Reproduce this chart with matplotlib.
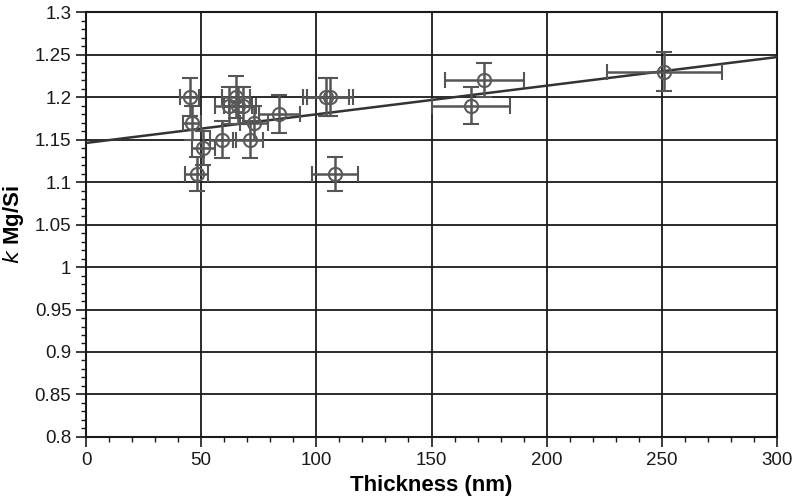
import matplotlib
matplotlib.use("Agg")
import matplotlib.pyplot as plt
from matplotlib.ticker import MultipleLocator, FuncFormatter
import numpy as np

plt.rcParams['font.family'] = ['Liberation Sans', 'DejaVu Sans']

# measured points: thickness (nm) and k-factor Mg/Si
thickness = [45, 46, 48, 51, 59, 62, 65, 66, 68, 71, 73, 84, 104, 106, 108, 167, 173, 251]
k_mgsi = [1.20, 1.17, 1.11, 1.14, 1.15, 1.19, 1.20, 1.19, 1.19, 1.15, 1.17, 1.18,
          1.20, 1.20, 1.11, 1.19, 1.22, 1.23]
thickness_err = [4, 4, 5, 5, 5, 6, 6, 6, 6, 6, 6, 9, 10, 10, 10, 17, 17, 25]
k_err = [0.022, 0.02, 0.02, 0.02, 0.022, 0.022, 0.025, 0.022, 0.022, 0.022, 0.02, 0.022,
         0.022, 0.022, 0.02, 0.022, 0.02, 0.023]

# linear fit
fit_intercept = 1.146
fit_slope = 0.000337

fig = plt.figure(figsize=(7.92, 5.04), dpi=100)
ax = fig.add_axes([0.1086, 0.133, 0.8725, 0.843])

# fit line
xf = np.array([0, 300])
ax.plot(xf, fit_intercept + fit_slope * xf, color='#333333', lw=1.8, zorder=3)

# points with error bars
ax.errorbar(thickness, k_mgsi, xerr=thickness_err, yerr=k_err, fmt='o',
            color='#5a5a5a', ecolor='#555555', elinewidth=1.8, capsize=5.5,
            capthick=1.8, markersize=9.5, markerfacecolor='none',
            markeredgewidth=1.5, zorder=4)

ax.set_xlim(0, 300)
ax.set_ylim(0.8, 1.3)
ax.xaxis.set_major_locator(MultipleLocator(50))
ax.xaxis.set_minor_locator(MultipleLocator(10))
ax.yaxis.set_major_locator(MultipleLocator(0.05))
ax.yaxis.set_minor_locator(MultipleLocator(0.01))
ax.yaxis.set_major_formatter(FuncFormatter(lambda v, p: '%g' % round(v, 2)))
ax.xaxis.set_major_formatter(FuncFormatter(lambda v, p: '%g' % v))

ax.grid(True, which='major', color='#1a1a1a', lw=1.3)
ax.set_axisbelow(True)
for s in ax.spines.values():
    s.set_color('#1a1a1a')
    s.set_linewidth(1.5)

ax.tick_params(which='major', direction='out', length=7, width=1.2,
               labelsize=13.5, colors='#1a1a1a')
ax.tick_params(which='minor', direction='out', length=3.5, width=1.0, colors='#1a1a1a')

ax.set_xlabel('Thickness (nm)', fontsize=16, fontweight='bold', labelpad=5)
ax.set_ylabel(r'$\bf\it{k}$ Mg/Si', fontsize=16, fontweight='bold', labelpad=6)

fig.savefig('out.png', dpi=100)
